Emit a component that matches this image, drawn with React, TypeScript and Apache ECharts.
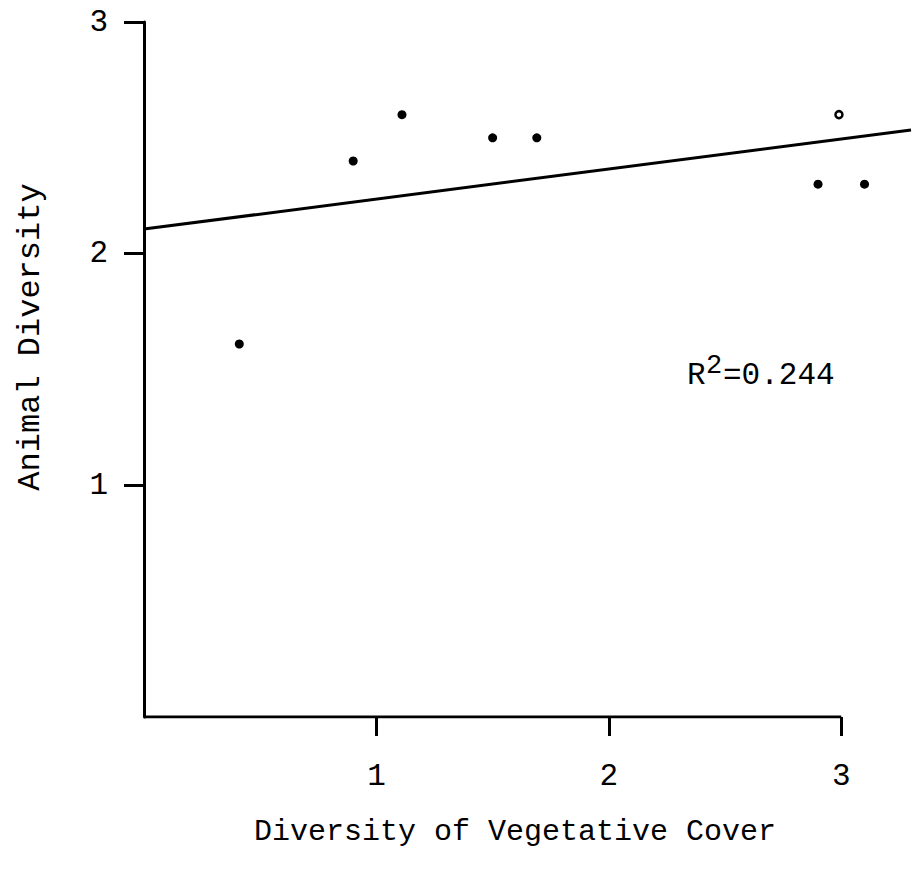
import React, { useEffect, useRef } from "react";
import * as echarts from "echarts";

// Filled data points (Diversity of Vegetative Cover, Animal Diversity)
const coverX = [0.41, 0.9, 1.11, 1.5, 1.69, 2.9, 3.1];
const animalY = [1.61, 2.4, 2.6, 2.5, 2.5, 2.3, 2.3];
// Open (hollow) data point
const openX = [2.99];
const openY = [2.6];
// Regression line endpoints
const fitX = [0, 3.3];
const fitY = [2.106, 2.534];
// Axis ticks
const xTicks = [1, 2, 3];
const yTicks = [1, 2, 3];
const xAxisEnd = 3;

const FONT = "'Liberation Mono', 'Courier New', monospace";

export default function App() {
  const ref = useRef<HTMLDivElement>(null);
  useEffect(() => {
    if (!ref.current) return;
    const chart = echarts.init(ref.current, undefined, { renderer: "svg" });
    chart.setOption({
      animation: false,
      backgroundColor: "#ffffff",
      grid: { left: 144, top: 22, right: 1, bottom: 155 },
      xAxis: {
        type: "value",
        min: 0,
        max: 3.3,
        interval: 1,
        axisLine: { show: false },
        axisTick: {
          show: true,
          customValues: xTicks,
          length: 19,
          lineStyle: { color: "#000", width: 3 },
        },
        axisLabel: {
          customValues: xTicks,
          margin: 44,
          fontSize: 31,
          fontFamily: FONT,
          color: "#000",
        },
        splitLine: { show: false },
      },
      yAxis: {
        type: "value",
        min: 0,
        max: 3,
        interval: 1,
        axisLine: { show: true, lineStyle: { color: "#000", width: 3 } },
        axisTick: {
          show: true,
          customValues: yTicks,
          length: 20,
          lineStyle: { color: "#000", width: 3 },
        },
        axisLabel: {
          customValues: yTicks,
          margin: 36,
          fontSize: 31,
          fontFamily: FONT,
          color: "#000",
        },
        splitLine: { show: false },
      },
      series: [
        {
          type: "line",
          data: [
            [0, 0],
            [xAxisEnd, 0],
          ],
          symbol: "none",
          lineStyle: { color: "#000", width: 3 },
          silent: true,
        },
        {
          type: "line",
          data: fitX.map((x, i) => [x, fitY[i]]),
          symbol: "none",
          lineStyle: { color: "#000", width: 3 },
          silent: true,
        },
        {
          type: "scatter",
          data: coverX.map((x, i) => [x, animalY[i]]),
          symbol: "circle",
          symbolSize: 9,
          itemStyle: { color: "#000", opacity: 1 },
        },
        {
          type: "scatter",
          data: openX.map((x, i) => [x, openY[i]]),
          symbol: "circle",
          symbolSize: 7,
          itemStyle: {
            color: "#fff",
            borderColor: "#000",
            borderWidth: 2.5,
            opacity: 1,
          },
        },
      ],
      graphic: [
        {
          type: "text",
          x: 30,
          y: 337,
          rotation: Math.PI / 2,
          style: {
            text: "Animal Diversity",
            font: `32px ${FONT}`,
            fill: "#000",
            textAlign: "center",
            textVerticalAlign: "middle",
            align: "center",
            verticalAlign: "middle",
          },
        },
        {
          type: "text",
          x: 515,
          y: 832,
          style: {
            text: "Diversity of Vegetative Cover",
            font: `30px ${FONT}`,
            fill: "#000",
            textAlign: "center",
            textVerticalAlign: "middle",
            align: "center",
            verticalAlign: "middle",
          },
        },
        {
          type: "text",
          x: 687,
          y: 391,
          style: {
            text: "R",
            font: `31px ${FONT}`,
            fill: "#000",
            textAlign: "left",
            textVerticalAlign: "bottom",
            align: "left",
            verticalAlign: "bottom",
          },
        },
        {
          type: "text",
          x: 706,
          y: 379,
          style: {
            text: "2",
            font: `27px ${FONT}`,
            fill: "#000",
            textAlign: "left",
            textVerticalAlign: "bottom",
            align: "left",
            verticalAlign: "bottom",
          },
        },
        {
          type: "text",
          x: 723,
          y: 391,
          style: {
            text: "=0.244",
            font: `31px ${FONT}`,
            fill: "#000",
            textAlign: "left",
            textVerticalAlign: "bottom",
            align: "left",
            verticalAlign: "bottom",
          },
        },
      ],
    });
    return () => chart.dispose();
  }, []);
  return (
    <div
      ref={ref}
      style={{ position: "absolute", left: 0, top: 0, width: 912, height: 872 }}
    />
  );
}
